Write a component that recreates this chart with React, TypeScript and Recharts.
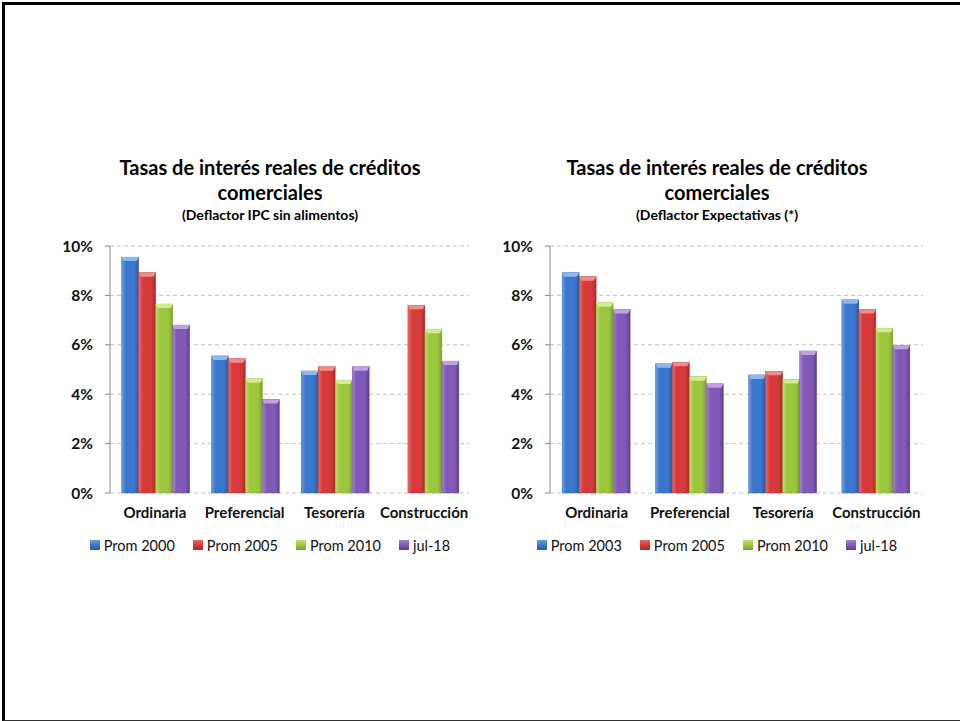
import React from 'react';
import { BarChart, Bar, XAxis, YAxis, CartesianGrid, Legend } from 'recharts';

const categories = ['Ordinaria', 'Preferencial', 'Tesorería', 'Construcción'];

// left chart: deflactor IPC sin alimentos
const leftSeriesNames = ['Prom 2000', 'Prom 2005', 'Prom 2010', 'jul-18'];
const leftProm2000 = [9.55, 5.55, 4.94, null];
const leftProm2005 = [8.92, 5.44, 5.11, 7.6];
const leftProm2010 = [7.65, 4.63, 4.57, 6.63];
const leftJul18 = [6.8, 3.79, 5.11, 5.34];

// right chart: deflactor expectativas
const rightSeriesNames = ['Prom 2003', 'Prom 2005', 'Prom 2010', 'jul-18'];
const rightProm2003 = [8.92, 5.23, 4.78, 7.82];
const rightProm2005 = [8.76, 5.29, 4.93, 7.43];
const rightProm2010 = [7.7, 4.71, 4.6, 6.67];
const rightJul18 = [7.43, 4.42, 5.75, 5.98];

const yTicks = [0, 2, 4, 6, 8, 10];

const colors = [
  { main: '#3a76cc', light: '#6a9fe6', dark: '#2a5aa4', cap: '#8cb8f0' },
  { main: '#d63b3b', light: '#ea6a6a', dark: '#a82a2a', cap: '#f08c8c' },
  { main: '#9cc63e', light: '#bde06a', dark: '#7ba22a', cap: '#d2ec8e' },
  { main: '#8159b6', light: '#a482d2', dark: '#62408f', cap: '#bea2e2' },
];

const FONT = 'Lato, "Open Sans", sans-serif';

function buildRows(series: (number | null)[][]) {
  return categories.map((name, i) => ({
    name,
    s0: series[0][i],
    s1: series[1][i],
    s2: series[2][i],
    s3: series[3][i],
  }));
}

const leftData = buildRows([leftProm2000, leftProm2005, leftProm2010, leftJul18]);
const rightData = buildRows([rightProm2003, rightProm2005, rightProm2010, rightJul18]);

const boundaryTicks = [...categories.map((_, i) => i), categories.length];

function BarShape(props: any) {
  const { x, y, width, height, idx, prefix } = props;
  if (!height || height <= 0) return null;
  const c = colors[idx];
  const cap = Math.min(4, height);
  return (
    <g>
      <rect x={x} y={y} width={width} height={height} fill={`url(#${prefix}g${idx})`} stroke={c.dark} strokeWidth={0.4} />
      <polygon
        points={`${x},${y} ${x + width},${y} ${x + width - 2},${y + cap} ${x + 2},${y + cap}`}
        fill={c.cap}
      />
    </g>
  );
}

function LegendContent({ names }: { names: string[] }) {
  return (
    <div style={{ display: 'flex', justifyContent: 'center', alignItems: 'center', height: 24, fontFamily: FONT, fontSize: 14.5, color: '#111' }}>
      {names.map((n, i) => (
        <div key={n} style={{ display: 'flex', alignItems: 'center', marginRight: i < names.length - 1 ? 18 : 0 }}>
          <span
            style={{
              display: 'inline-block',
              width: 10,
              height: 10,
              marginRight: 4,
              background: `linear-gradient(180deg, ${colors[i].light}, ${colors[i].main} 50%, ${colors[i].dark})`,
            }}
          />
          <span>{n}</span>
        </div>
      ))}
    </div>
  );
}

function Panel({ left, width, marginRight, data, names, subtitle, prefix }: any) {
  return (
    <div style={{ position: 'absolute', left, top: 150, width, height: 420 }}>
      <div style={{ position: 'absolute', left: 0, top: 5, width, textAlign: 'center', fontFamily: FONT, fontWeight: 700, color: '#000' }}>
        <div style={{ fontSize: 20, lineHeight: '25px' }}>Tasas de interés reales de créditos</div>
        <div style={{ fontSize: 20, lineHeight: '25px' }}>comerciales</div>
        <div style={{ fontSize: 14, lineHeight: '20px' }}>{subtitle}</div>
      </div>
      <div style={{ position: 'absolute', left: 0, top: 80 }}>
        <BarChart
          width={width}
          height={340}
          data={data}
          margin={{ top: 16, right: marginRight, bottom: 13, left: 0 }}
          barCategoryGap="13%"
          barGap={0}
        >
          <defs>
            {colors.map((c, i) => (
              <linearGradient key={i} id={`${prefix}g${i}`} x1="0" y1="0" x2="1" y2="0">
                <stop offset="0%" stopColor={c.light} />
                <stop offset="25%" stopColor={c.main} />
                <stop offset="75%" stopColor={c.main} />
                <stop offset="100%" stopColor={c.dark} />
              </linearGradient>
            ))}
          </defs>
          <CartesianGrid vertical={false} stroke="#c4c4c4" strokeDasharray="4 3" />
          <XAxis
            xAxisId="b"
            type="number"
            domain={[0, categories.length]}
            ticks={boundaryTicks}
            allowDataOverflow
            height={0}
            tick={false}
            tickSize={6}
            stroke="#8a8a8a"
          />
          <XAxis
            xAxisId="cat"
            dataKey="name"
            height={40}
            axisLine={false}
            tickLine={false}
            tickSize={8}
            tickMargin={6}
            interval={0}
            tick={{ fontFamily: FONT, fontSize: 15, fontWeight: 700, fill: '#111' }}
          />
          <YAxis
            width={70}
            domain={[0, 10]}
            ticks={yTicks}
            tickFormatter={(v: number) => `${v}%`}
            tickSize={5}
            tickMargin={12}
            stroke="#8a8a8a"
            tick={{ fontFamily: FONT, fontSize: 15.5, fontWeight: 700, fill: '#111' }}
          />
          {names.map((n: string, i: number) => (
            <Bar
              key={n}
              xAxisId="cat"
              dataKey={`s${i}`}
              name={n}
              fill={colors[i].main}
              isAnimationActive={false}
              shape={(p: any) => <BarShape {...p} idx={i} prefix={prefix} />}
            />
          ))}
          <Legend
            verticalAlign="bottom"
            wrapperStyle={{ left: 0, width, height: 24 }}
            content={() => <LegendContent names={names} />}
          />
        </BarChart>
      </div>
    </div>
  );
}

export default function App() {
  return (
    <div style={{ position: 'absolute', left: 0, top: 0, width: 960, height: 721, overflow: 'hidden', background: '#fff' }}>
      <div
        style={{
          position: 'absolute',
          left: 2,
          top: 2,
          width: 1000,
          height: 715,
          borderTop: '3px solid #000',
          borderLeft: '3px solid #000',
          borderBottom: '1px solid #333',
        }}
      />
      <Panel left={40} width={460} marginRight={31} data={leftData} names={leftSeriesNames} subtitle="(Deflactor IPC sin alimentos)" prefix="L" />
      <Panel left={480} width={474} marginRight={31} data={rightData} names={rightSeriesNames} subtitle="(Deflactor Expectativas (*)" prefix="R" />
    </div>
  );
}
